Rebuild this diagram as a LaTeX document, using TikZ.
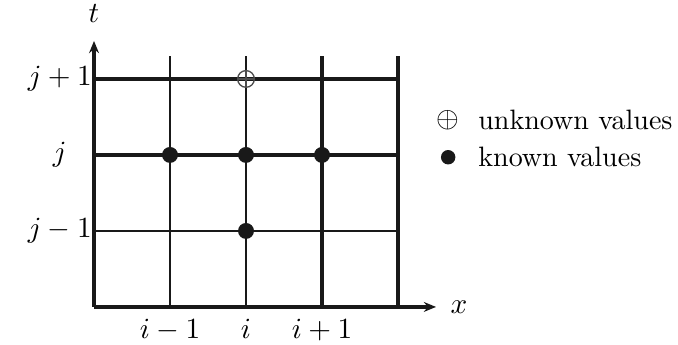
\documentclass[tikz,border=0pt]{standalone}
\usetikzlibrary{positioning, arrows.meta}

\begin{document}
\begin{tikzpicture}[
    % ====================
    % ESTILOS
    % ====================
    axis/.style={
        line width=1.3pt, draw=black!90, -{Stealth[length=1.6mm, width=1.3mm]}
    },
    gridthick/.style={
        line width=1.2pt, draw=black!90
    },
    gridthin/.style={
        line width=0.8pt, draw=black!90
    },
    known/.style={
        circle, fill=black!90, minimum size=0.21cm, inner sep=0pt
    },
    unknown/.style={
        circle, draw=black!70, line width=0.5pt, minimum size=0.22cm, inner sep=0pt,
        path picture={
            \draw[black!70, line width=0.5pt]
                (path picture bounding box.north) -- (path picture bounding box.south)
                (path picture bounding box.west) -- (path picture bounding box.east);
        }
    },
    ticklabel/.style={
        font=\fontsize{10.5}{12}\selectfont, inner sep=1pt
    },
    legendtext/.style={
        anchor=west, font=\fontsize{10.5}{12}\selectfont, inner sep=0pt
    }
]

\useasboundingbox (-1.237, -0.5) rectangle (7.684, 4.039);

% ====================
% REJILLA
% ====================
\coordinate (O) at (0, 0);
\coordinate (xend) at (4.5, 0);
\coordinate (tend) at (0, 3.5);

% Lineas horizontales
\draw[gridthin]  (0, 1) -- (4, 1);
\draw[gridthick] (0, 2) -- (4, 2);
\draw[gridthick] (0, 3) -- (4, 3);

% Lineas verticales
\draw[gridthin]  (1, 0) -- (1, 3.3);
\draw[gridthin]  (2, 0) -- (2, 3.3);
\draw[gridthick] (3, 0) -- (3, 3.3);
\draw[gridthick] (4, 0) -- (4, 3.3);

% Ejes
\draw[axis] (O) -- (xend);
\draw[axis] (O) -- (tend);
\node[ticklabel, right=0.15cm of xend] (xlab) {$x$};
\node[ticklabel, above=0.2cm of tend] (tlab) {$t$};

% ====================
% ETIQUETAS
% ====================
\node[ticklabel] (jm) at (-0.45, 1) {$j-1$};
\node[ticklabel] (j)  at (-0.45, 2) {$j$};
\node[ticklabel] (jp) at (-0.45, 3) {$j+1$};

\node[ticklabel, anchor=north] (im) at (1, -0.12) {$i-1$};
\node[ticklabel, anchor=north] (i)  at (2, -0.12) {$i$};
\node[ticklabel, anchor=north] (ip) at (3, -0.12) {$i+1$};

% ====================
% PUNTOS
% ====================
\node[unknown] (U)  at (2, 3) {};
\node[known]   (K1) at (1, 2) {};
\node[known]   (K2) at (2, 2) {};
\node[known]   (K3) at (3, 2) {};
\node[known]   (K4) at (2, 1) {};

% ====================
% LEYENDA
% ====================
\node[ticklabel, inner sep=0pt] (legU) at (4.66, 2.46) {$\oplus$};
\node[known, minimum size=0.19cm] (legK) at (4.66, 1.97) {};
\node[legendtext] (legUtext) at (5.05, 2.46) {unknown values};
\node[legendtext] (legKtext) at (5.05, 1.97) {known values};

\end{tikzpicture}
\end{document}
